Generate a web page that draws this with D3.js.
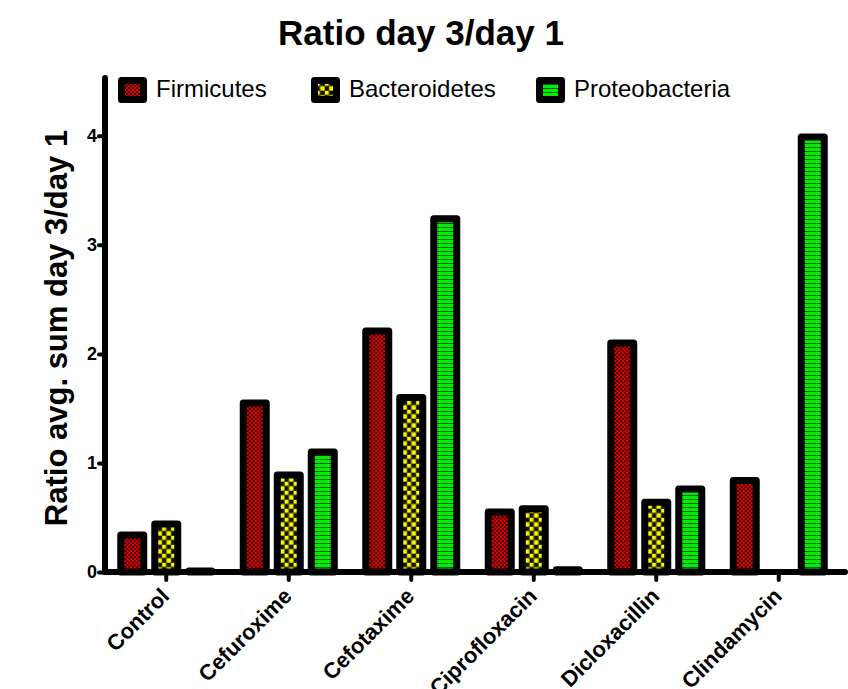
<!DOCTYPE html>
<html>
<head>
<meta charset="utf-8">
<script src="https://cdn.jsdelivr.net/npm/d3@7"></script>
<style>
  body { margin: 0; background: #fff; }
  text { font-family: "Liberation Sans", Arial, sans-serif; }
</style>
</head>
<body>
<script>
(function() {
    'use strict';

    var categories = ['Control', 'Cefuroxime', 'Cefotaxime', 'Ciprofloxacin', 'Dicloxacillin', 'Clindamycin'];
    var seriesNames = ['Firmicutes', 'Bacteroidetes', 'Proteobacteria'];
    var firmicutes = [0.34, 1.55, 2.21, 0.55, 2.10, 0.84];
    var bacteroidetes = [0.44, 0.89, 1.60, 0.58, 0.64, 0];
    var proteobacteria = [0.01, 1.10, 3.24, 0.02, 0.76, 3.99];
    var yTicks = [0, 1, 2, 3, 4];

    var seriesValues = [firmicutes, bacteroidetes, proteobacteria];
    var patternIds = ['patFirm', 'patBact', 'patProt'];

    var width = 848, height = 689;
    var svg = d3.select('body').append('svg')
        .attr('width', width)
        .attr('height', height);

    var defs = svg.append('defs');

    // firmicutes: fine red checker
    var p1 = defs.append('pattern').attr('id', 'patFirm')
        .attr('patternUnits', 'userSpaceOnUse').attr('width', 4).attr('height', 4);
    p1.append('rect').attr('width', 4).attr('height', 4).attr('fill', '#e00000');
    p1.append('rect').attr('width', 2).attr('height', 2).attr('fill', '#400000');
    p1.append('rect').attr('x', 2).attr('y', 2).attr('width', 2).attr('height', 2).attr('fill', '#400000');

    // bacteroidetes: yellow / black checker
    var p2 = defs.append('pattern').attr('id', 'patBact')
        .attr('patternUnits', 'userSpaceOnUse').attr('width', 9).attr('height', 9);
    p2.append('rect').attr('width', 9).attr('height', 9).attr('fill', '#5a5a00');
    p2.append('rect').attr('x', 0.5).attr('y', 0.5).attr('width', 4).attr('height', 4).attr('fill', '#ffff00');
    p2.append('rect').attr('x', 5).attr('y', 5).attr('width', 3.5).attr('height', 3.5).attr('fill', '#ffff00');
    p2.append('rect').attr('x', 5).attr('y', 0.5).attr('width', 3.5).attr('height', 4).attr('fill', '#111');
    p2.append('rect').attr('x', 0.5).attr('y', 5).attr('width', 4).attr('height', 3.5).attr('fill', '#111');

    // proteobacteria: green horizontal stripes
    var p3 = defs.append('pattern').attr('id', 'patProt')
        .attr('patternUnits', 'userSpaceOnUse').attr('width', 4).attr('height', 4);
    p3.append('rect').attr('width', 4).attr('height', 4).attr('fill', '#00ee00');
    p3.append('rect').attr('y', 3).attr('width', 4).attr('height', 1).attr('fill', '#006000');

    var x0 = d3.scaleBand().domain(categories).range([105, 840]).padding(0);
    var x1 = d3.scaleBand().domain(seriesNames).range([-51, 51]).padding(0);
    var y = d3.scaleLinear().domain([0, 4.53]).range([572, 78]);

    var strokeW = 7;
    var rows = categories.map(function(c, i) {
        return seriesNames.map(function(s, j) {
            return { cat: c, series: s, value: seriesValues[j][i], pat: patternIds[j] };
        });
    });

    // bars
    var groups = svg.append('g').selectAll('g')
        .data(rows)
        .join('g')
        .attr('transform', function(d, i) {
            return 'translate(' + (x0(categories[i]) + x0.bandwidth() / 2) + ',0)';
        });

    groups.selectAll('rect')
        .data(function(d) { return d.filter(function(e) { return e.value > 0; }); })
        .join('rect')
        .attr('x', function(d) { return x1(d.series) + (x1.bandwidth() - 30) / 2 + strokeW / 2; })
        .attr('width', 30 - strokeW)
        .attr('y', function(d) { return y(d.value); })
        .attr('height', function(d) { return Math.max(0, y(0) - y(d.value)); })
        .attr('fill', function(d) { return 'url(#' + d.pat + ')'; })
        .attr('stroke', '#000')
        .attr('stroke-width', strokeW)
        .attr('stroke-linejoin', 'round');

    // axes
    var yAxis = d3.axisLeft(y).tickValues(yTicks).tickSize(6).tickFormat(d3.format('d'));
    var gy = svg.append('g').attr('transform', 'translate(105,0)').call(yAxis);
    gy.select('.domain').remove();
    gy.selectAll('.tick line').attr('stroke', '#000').attr('stroke-width', 4)
        .attr('stroke-linecap', 'round');
    gy.selectAll('.tick text')
        .attr('x', -8)
        .style('font-family', '"Liberation Sans", Arial, sans-serif')
        .style('font-size', '18px')
        .style('font-weight', 'bold')
        .attr('fill', '#000');

    svg.append('line')
        .attr('x1', 105).attr('x2', 105).attr('y1', 78).attr('y2', 572)
        .attr('stroke', '#000').attr('stroke-width', 6).attr('stroke-linecap', 'round');

    var xAxis = d3.axisBottom(x0).tickSize(8);
    var gx = svg.append('g').attr('transform', 'translate(0,572)').call(xAxis);
    gx.select('.domain').remove();
    gx.selectAll('.tick line').attr('stroke', '#000').attr('stroke-width', 4)
        .attr('stroke-linecap', 'round');
    gx.selectAll('.tick text')
        .attr('transform', 'translate(-1,20) rotate(-45)')
        .attr('x', 0).attr('y', 0).attr('dy', '0.35em')
        .attr('text-anchor', 'end')
        .style('font-family', '"Liberation Sans", Arial, sans-serif')
        .style('font-size', '22px')
        .style('font-weight', 'bold')
        .attr('fill', '#000');

    svg.append('line')
        .attr('x1', 105).attr('x2', 845).attr('y1', 572).attr('y2', 572)
        .attr('stroke', '#000').attr('stroke-width', 6).attr('stroke-linecap', 'round');

    // title
    svg.append('text')
        .attr('x', 421).attr('y', 45)
        .attr('text-anchor', 'middle')
        .style('font-size', '35px')
        .style('font-weight', 'bold')
        .text('Ratio day 3/day 1');

    // y label
    svg.append('text')
        .attr('transform', 'translate(67,328) rotate(-90)')
        .attr('text-anchor', 'middle')
        .style('font-size', '31px')
        .style('font-weight', 'bold')
        .text('Ratio avg. sum day 3/day 1');

    // legend
    var legendX = [118, 311, 536];
    var legend = svg.append('g').selectAll('g')
        .data(seriesNames)
        .join('g')
        .attr('transform', function(d, i) { return 'translate(' + legendX[i] + ',77)'; });
    legend.append('rect')
        .attr('x', 3.5).attr('y', 3.5)
        .attr('width', 22).attr('height', 19)
        .attr('fill', function(d, i) { return 'url(#' + patternIds[i] + ')'; })
        .attr('stroke', '#000').attr('stroke-width', 7)
        .attr('stroke-linejoin', 'round');
    legend.append('text')
        .attr('x', 38).attr('y', 20)
        .style('font-size', '24px')
        .text(function(d) { return d; });
}());
</script>
</body>
</html>
